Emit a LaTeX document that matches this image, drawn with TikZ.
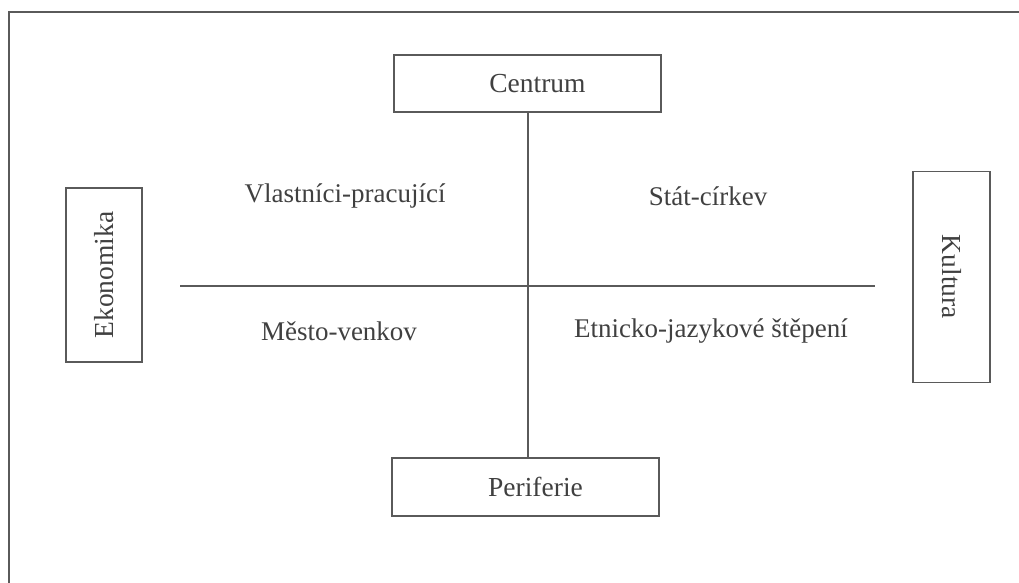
\documentclass[tikz,border=0pt]{standalone}
\usepackage{fontspec}
\setmainfont{Liberation Serif}
\definecolor{ln}{HTML}{5A5A5A}
\definecolor{tx}{HTML}{404040}
\tikzset{
  box/.style={draw=ln, line width=1.8pt, inner sep=0pt, text=tx, font=\fontsize{27.5}{30}\selectfont},
  lbl/.style={text=tx, inner sep=0pt, font=\fontsize{27}{30}\selectfont},
  conn/.style={draw=ln, line width=1.8pt}
}
\begin{document}
\begin{tikzpicture}[x=1pt,y=-1pt]
\useasboundingbox (0,0) rectangle (1019,583);
\draw[ln, line width=2pt] (1019,12) -- (9,12) -- (9,583);
\node[box, minimum width=267pt, minimum height=57pt] (c) at (527.5,83.5) {\hspace*{20pt}Centrum};
\node[box, minimum width=267pt, minimum height=58pt] (p) at (525.5,487) {\hspace*{20pt}Periferie};
\node[box, rotate=90, minimum width=174pt, minimum height=76pt] (e) at (104,275) {Ekonomika};
\node[box, rotate=-90, minimum width=211pt, minimum height=77pt] (k) at (951.5,277) {Kultura};
\coordinate (hl) at (180,286);
\coordinate (hr) at (875,286);
\coordinate (vt) at (528,112);
\coordinate (vb) at (528,458);
\draw[conn] (vt) -- (vb);
\draw[conn] (hl) -- (hr);
\node[lbl] (q1) at (345,196) {Vlastníci-pracující};
\node[lbl] (q2) at (708,196) {Stát-církev};
\node[lbl] (q3) at (339,331) {Město-venkov};
\node[lbl] (q4) at (711,331) {Etnicko-jazykové štěpení};
\end{tikzpicture}
\end{document}
